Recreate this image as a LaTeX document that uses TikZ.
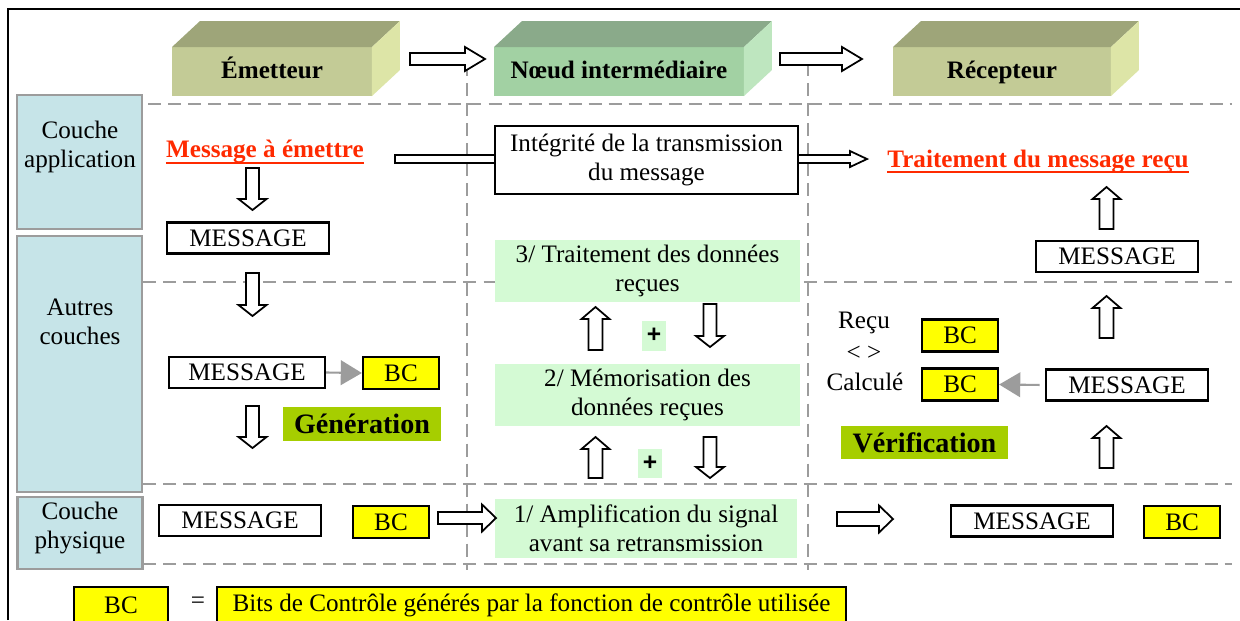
\documentclass[tikz,border=0pt]{standalone}
\usepackage{fontspec}
\setmainfont{Liberation Serif}
\newfontfamily\sansgras{Liberation Sans}
\usepackage{xcolor}
\usepackage{tikz}
\usetikzlibrary{arrows.meta}

\definecolor{couche}{HTML}{C6E4E8}
\definecolor{grisbord}{HTML}{9C9C9C}
\definecolor{vertpale}{HTML}{D4FAD4}
\definecolor{vertvif}{HTML}{A6CE00}
\definecolor{rougetxt}{HTML}{FF2A00}
\definecolor{jaune}{HTML}{FFFF00}
\definecolor{olivef}{HTML}{C3CB96}
\definecolor{olivet}{HTML}{9EA579}
\definecolor{olivec}{HTML}{DDE5A7}
\definecolor{vertf}{HTML}{A2D1A3}
\definecolor{vertt}{HTML}{8AAA8A}
\definecolor{vertc}{HTML}{BEE6BF}

\newcommand{\flechebas}[3]{\filldraw[bloc] (#1-6.5,#2) -- (#1+6.5,#2) -- (#1+6.5,#3-11) -- (#1+14,#3-11) -- (#1,#3) -- (#1-14,#3-11) -- (#1-6.5,#3-11) -- cycle;}
\newcommand{\flechehaut}[3]{\filldraw[bloc] (#1-7,#2) -- (#1+7,#2) -- (#1+7,#3+12) -- (#1+14,#3+12) -- (#1,#3) -- (#1-14,#3+12) -- (#1-7,#3+12) -- cycle;}
\newcommand{\flechedroite}[6]{\filldraw[bloc] (#2,#1-#4) -- (#3-#6,#1-#4) -- (#3-#6,#1-#5) -- (#3,#1) -- (#3-#6,#1+#5) -- (#3-#6,#1+#4) -- (#2,#1+#4) -- cycle;}
\newcommand{\boite}[3]{\fill[#2] (#1.north west) -- ([shift={(28,-26)}]#1.north west) -- ([shift={(28,-26)}]#1.north east) -- (#1.north east) -- cycle;
        \fill[#3] (#1.north east) -- ([shift={(28,-26)}]#1.north east) -- ([shift={(28,-26)}]#1.south east) -- (#1.south east) -- cycle;}

\begin{document}
\begin{tikzpicture}[x=0.02cm, y=-0.02cm,
        font=\fontsize{14.3}{16.8}\selectfont,
        bloc/.style={draw=black, fill=white, line width=1pt},
        pointille/.style={draw=grisbord, line width=1.1pt, dash pattern=on 7.4pt off 4pt},
        lien/.style={draw=grisbord, line width=1.2pt, -{Triangle[length=12pt, width=14pt]}},
        msgbox/.style={draw, line width=1.3pt, fill=white, inner sep=0pt, minimum width=3.24cm, minimum height=0.62cm},
        bcbox/.style={draw, line width=1.3pt, fill=jaune, inner sep=0pt, minimum width=1.52cm, minimum height=0.64cm},
        vertbox/.style={fill=vertpale, inner sep=0pt, align=center, minimum width=6.1cm, minimum height=1.24cm},
        etiquette/.style={fill=vertvif, inner sep=0pt, font=\fontsize{16}{19}\selectfont\bfseries},
        plusbox/.style={fill=vertpale, inner sep=0pt, minimum width=0.48cm, minimum height=0.6cm, font=\sansgras\bfseries\fontsize{14}{16}\selectfont},
        coucheb/.style={fill=couche, draw=grisbord, line width=1.2pt, minimum width=2.5cm},
        entete/.style={inner sep=0pt, outer sep=0pt, minimum height=0.98cm, text height=0.83em, text depth=0em, font=\fontsize{14.3}{16.8}\selectfont\bfseries},
        titre/.style={inner sep=0pt, anchor=base, text=rougetxt, font=\fontsize{14.3}{16.8}\selectfont\bfseries}]
        \useasboundingbox (0,0) rectangle (1240,620);
        \fill[white] (0,0) rectangle (1240,620);

        \draw[line width=1.1pt] (8,620) -- (8,9) -- (1240,9);

        \draw[pointille] (148,104) -- (1232,104);
        \draw[pointille] (143,282) -- (1232,282);
        \draw[pointille] (143,484) -- (1232,484);
        \draw[pointille] (143,564) -- (1232,564);
        \draw[pointille] (467,63) -- (467,570);
        \draw[pointille] (808,63) -- (808,570);

        \node[entete, fill=olivef, minimum width=4cm] (emet) at (272,71.5) {Émetteur};
        \boite{emet}{olivet}{olivec}
        \node[entete, fill=vertf, minimum width=5cm] (noeud) at (619,71.5) {Nœud intermédiaire};
        \boite{noeud}{vertt}{vertc}
        \node[entete, fill=olivef, minimum width=4.36cm] (recep) at (1002,71.5) {Récepteur};
        \boite{recep}{olivet}{olivec}
        \flechedroite{59}{410}{485}{6}{12}{20}
        \flechedroite{59}{780}{862}{6}{12}{20}

        \node[coucheb, minimum height=2.68cm] (capp) at (79.5,162) {};
        \node[align=center] (tapp) at (80,147) {Couche\\application};
        \node[coucheb, minimum height=5.12cm] (cautres) at (79.5,364) {};
        \node[align=center] (tautres) at (80,322) {Autres\\couches};
        \node[coucheb, minimum height=1.44cm] (cphys) at (80,533) {};
        \node[align=center] (tphys) at (80,528) {Couche\\physique};

        \node[titre] (msgE) at (265,157) {Message à émettre};
        \draw[rougetxt, line width=1.2pt] ([yshift=-3.4pt]msgE.base west) -- ([yshift=-3.4pt]msgE.base east);
        \node[titre] (trait) at (1038,167) {Traitement du message reçu};
        \draw[rougetxt, line width=1.2pt] ([yshift=-2.6pt]trait.base west) -- ([yshift=-2.6pt]trait.base east);
        \flechedroite{159}{395}{867}{4}{8}{17}
        \node[draw, line width=1.3pt, fill=white, align=center, inner sep=0pt, minimum width=6.06cm, minimum height=1.36cm] (integ) at (646.5,160) {Intégrité de la transmission\\du message};

        \flechebas{252.5}{168}{210}
        \node[msgbox] (m1) at (248,238) {MESSAGE};
        \flechebas{252.5}{273}{316}
        \node[msgbox, minimum width=3.12cm] (m2) at (247,372.5) {MESSAGE};
        \node[bcbox] (bc1) at (401,373) {BC};
        \draw[lien] (m2.east) -- (bc1.west);
        \flechebas{252.5}{406}{448}
        \node[etiquette, minimum width=3.16cm, minimum height=0.68cm] (gen) at (362,424) {Génération};

        \node[vertbox] (v3) at (647.5,271) {3/ Traitement des données\\reçues};
        \flechehaut{595.5}{350}{307}
        \node[plusbox] (p1) at (654,335.5) {+};
        \flechebas{710}{304}{347}
        \node[vertbox] (v2) at (647.5,395) {2/ Mémorisation des\\données reçues};
        \flechehaut{595.5}{478}{437}
        \node[plusbox, minimum height=0.58cm] (p2) at (650,463.5) {+};
        \flechebas{710}{437}{478}
        \node[vertbox, minimum width=6.04cm, minimum height=1.18cm] (v1) at (646,528.5) {1/ Amplification du signal\\avant sa retransmission};

        \flechehaut{1106.5}{229}{187}
        \node[msgbox] (m5) at (1117,256.5) {MESSAGE};
        \flechehaut{1106.5}{338}{296}
        \node (recu) at (864,323) {Reçu};
        \node (diff) at (864,353) {< >};
        \node (calc) at (865,382) {Calculé};
        \node[bcbox] (bc4) at (960,335.5) {BC};
        \node[bcbox] (bc5) at (960,384.5) {BC};
        \node[msgbox] (m6) at (1127,385) {MESSAGE};
        \draw[lien, shorten <=3pt] (m6.west) -- (bc5.east);
        \flechehaut{1106.5}{468}{426}
        \node[etiquette, minimum width=3.34cm, minimum height=0.66cm] (verif) at (924.5,442.5) {Vérification};

        \node[msgbox] (m3) at (240,520.5) {MESSAGE};
        \node[bcbox] (bc2) at (391,522) {BC};
        \flechedroite{518}{438}{496}{6}{13.5}{14}
        \flechedroite{519}{837}{893}{7}{13.5}{14}
        \node[msgbox] (m4) at (1032,521) {MESSAGE};
        \node[bcbox] (bc3) at (1182,522) {BC};

        \node[bcbox, minimum width=1.88cm, minimum height=0.72cm] (legbc) at (121,605) {BC};
        \node (egal) at (198,603) {=};
        \node[bcbox, minimum width=12.58cm, minimum height=0.72cm] (legtxt) at (531.5,605) {Bits de Contrôle générés par la fonction de contrôle utilisée};
\end{tikzpicture}
\end{document}
